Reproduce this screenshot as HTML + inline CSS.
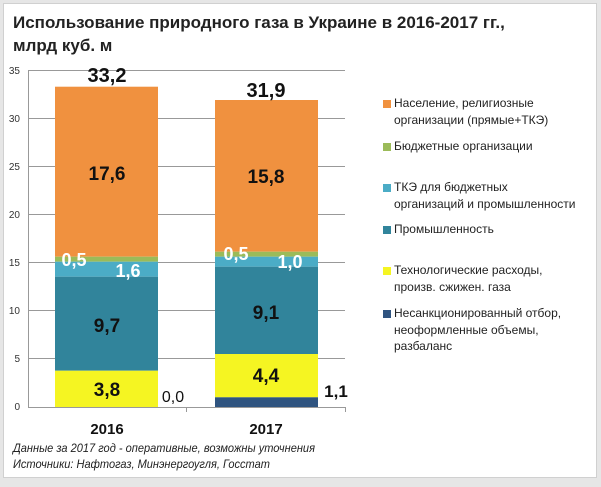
<!DOCTYPE html>
<html><head><meta charset="utf-8"><style>
body{margin:0;width:601px;height:487px;background:#e6e6e6;font-family:"Liberation Sans","DejaVu Sans",sans-serif;position:relative;overflow:hidden}
.frame{position:absolute;left:3px;top:3px;width:592px;height:473px;background:#fff;border:1px solid #d0d0d0}
.t{position:absolute;white-space:nowrap}
.lg{position:absolute;left:394px;font-size:12px;color:#222;line-height:16.5px}
.mk{position:absolute;left:383px;width:8px;height:8px}
</style></head><body>
<div class="frame"></div>
<div class="t" style="left:13px;top:11px;font-size:17px;font-weight:bold;color:#222;line-height:23px">Использование природного газа в Украине в 2016-2017 гг.,<br>млрд куб. м</div>
<svg style="position:absolute;left:0;top:0" width="601" height="487">
<g stroke="#999" stroke-width="1">
<line x1="28" y1="70.5" x2="345" y2="70.5"/><line x1="28" y1="118.5" x2="345" y2="118.5"/>
<line x1="28" y1="166.5" x2="345" y2="166.5"/><line x1="28" y1="214.5" x2="345" y2="214.5"/>
<line x1="28" y1="262.5" x2="345" y2="262.5"/><line x1="28" y1="310.5" x2="345" y2="310.5"/>
<line x1="28" y1="358.5" x2="345" y2="358.5"/>
<line x1="28.5" y1="70" x2="28.5" y2="407"/>
<line x1="28" y1="407.5" x2="345" y2="407.5"/>
<line x1="186.5" y1="407" x2="186.5" y2="412"/><line x1="345.5" y1="407" x2="345.5" y2="412"/>
</g>
<g font-size="10" fill="#333" text-anchor="end">
<text x="20" y="74">35</text><text x="20" y="122">30</text><text x="20" y="170">25</text><text x="20" y="218">20</text><text x="20" y="266">15</text><text x="20" y="314">10</text><text x="20" y="362">5</text><text x="20" y="410">0</text>
</g>
<rect x="55" y="86.7" width="103" height="170" fill="#f0913f"/>
<rect x="55" y="256.7" width="103" height="5" fill="#9bbb59"/>
<rect x="55" y="261.7" width="103" height="15" fill="#4bacc6"/>
<rect x="55" y="276.7" width="103" height="94" fill="#31849b"/>
<rect x="55" y="370.7" width="103" height="36.3" fill="#f5f522"/>
<rect x="215" y="100" width="103" height="151.7" fill="#f0913f"/>
<rect x="215" y="251.7" width="103" height="5" fill="#9bbb59"/>
<rect x="215" y="256.7" width="103" height="10" fill="#4bacc6"/>
<rect x="215" y="266.7" width="103" height="87.3" fill="#31849b"/>
<rect x="215" y="354" width="103" height="43.3" fill="#f5f522"/>
<rect x="215" y="397.3" width="103" height="9.7" fill="#2f5480"/>
<g font-weight="bold" text-anchor="middle" fill="#111">
<text x="107" y="82" font-size="20">33,2</text>
<text x="107" y="180" font-size="19">17,6</text>
<text x="107" y="332" font-size="19">9,7</text>
<text x="107" y="396" font-size="19">3,8</text>
<text x="266" y="97" font-size="20">31,9</text>
<text x="266" y="183" font-size="19">15,8</text>
<text x="266" y="319" font-size="19">9,1</text>
<text x="266" y="382" font-size="19">4,4</text>
<text x="336" y="397" font-size="17">1,1</text>
<text x="107" y="434" font-size="15">2016</text>
<text x="266" y="434" font-size="15">2017</text>
</g>
<g font-weight="bold" text-anchor="middle" fill="#fff" font-size="18">
<text x="74" y="266">0,5</text><text x="128" y="277">1,6</text>
<text x="236" y="260">0,5</text><text x="290" y="268">1,0</text>
</g>
<text x="173" y="402" font-size="16" text-anchor="middle" fill="#111">0,0</text>
</svg>
<div class="mk" style="top:100px;background:#f0913f"></div>
<div class="lg" style="top:95px">Население, религиозные<br>организации (прямые+ТКЭ)</div>
<div class="mk" style="top:143px;background:#9bbb59"></div>
<div class="lg" style="top:138px">Бюджетные организации</div>
<div class="mk" style="top:184px;background:#4bacc6"></div>
<div class="lg" style="top:179px">ТКЭ для бюджетных<br>организаций и промышленности</div>
<div class="mk" style="top:226px;background:#31849b"></div>
<div class="lg" style="top:221px">Промышленность</div>
<div class="mk" style="top:267px;background:#f5f522"></div>
<div class="lg" style="top:262px">Технологические расходы,<br>произв. сжижен. газа</div>
<div class="mk" style="top:310px;background:#2f5480"></div>
<div class="lg" style="top:305px">Несанкционированный отбор,<br>неоформленные объемы,<br>разбаланс</div>
<div class="t" style="left:13px;top:440px;font-size:12px;font-style:italic;color:#222;line-height:16px;transform:scaleX(0.92);transform-origin:0 0">Данные за 2017 год - оперативные, возможны уточнения<br>Источники: Нафтогаз, Минэнергоугля, Госстат</div>
</body></html>
